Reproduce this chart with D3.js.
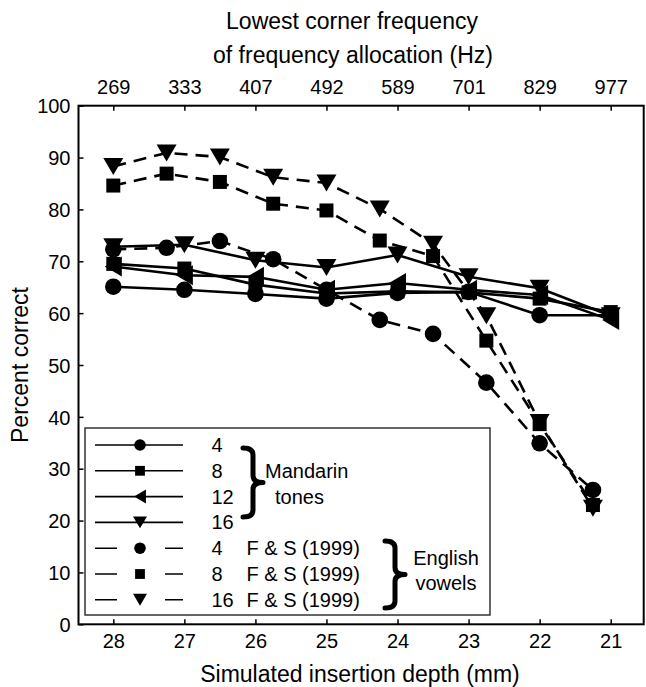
<!DOCTYPE html>
<html>
<head>
<meta charset="utf-8">
<script src="https://cdn.jsdelivr.net/npm/d3@7"></script>
<style>
  html, body { margin: 0; padding: 0; background: #fff; }
  svg { display: block; }
  text { font-family: "Liberation Sans", Arial, sans-serif; fill: #000; }
</style>
</head>
<body>
<svg id="chart" width="646" height="687"></svg>
<script>
// ---------- data ----------
const depthTicks = [28, 27, 26, 25, 24, 23, 22, 21];
const freqLabels = ["269", "333", "407", "492", "589", "701", "829", "977"];
const yTicks = [0, 10, 20, 30, 40, 50, 60, 70, 80, 90, 100];

// Mandarin tones (solid lines)
const depthsMT = [28, 27, 26, 25, 24, 23, 22, 21];
const mt4  = [65.1, 64.5, 63.7, 62.8, 63.9, 64.1, 59.6, 59.6];
const mt8  = [69.5, 68.6, 65.5, 63.8, 64.2, 64.0, 62.8, 60.2];
const mt12 = [69.0, 67.3, 67.0, 64.5, 65.8, 64.5, 63.5, 58.7];
const mt16 = [72.8, 73.2, 70.2, 68.8, 71.2, 67.0, 64.8, 59.5];

// English vowels, F & S (1999) (dashed lines)
const depthsFS = [28, 27.25, 26.5, 25.75, 25, 24.25, 23.5, 22.75, 22, 21.25];
const fs4  = [72.3, 72.6, 73.9, 70.4, 64.5, 58.7, 56.0, 46.6, 34.9, 25.9];
const fs8  = [84.6, 86.9, 85.3, 81.1, 79.8, 74.0, 71.0, 54.7, 38.6, 23.0];
const fs16 = [88.3, 90.9, 90.1, 86.2, 85.1, 80.1, 73.3, 59.5, 38.9, 22.4];

const legendNums = ["4", "8", "12", "16", "4", "8", "16"];
const legendRefs = ["", "", "", "", "F & S (1999)", "F & S (1999)", "F & S (1999)"];

const series = [
  { x: depthsMT, y: mt4,  marker: "circle",   dashed: false },
  { x: depthsMT, y: mt8,  marker: "square",   dashed: false },
  { x: depthsMT, y: mt12, marker: "triLeft",  dashed: false },
  { x: depthsMT, y: mt16, marker: "triDown",  dashed: false },
  { x: depthsFS, y: fs4,  marker: "circle",   dashed: true },
  { x: depthsFS, y: fs8,  marker: "square",   dashed: true },
  { x: depthsFS, y: fs16, marker: "triDown",  dashed: true }
];

// ---------- layout ----------
const svg = d3.select("#chart");
const L = 78.5, R = 643.7, T = 105.7, B = 624.3;
const x = d3.scaleLinear().domain([28, 21]).range([113.3, 610.7]);
const y = d3.scaleLinear().domain([0, 100]).range([B, T]);

// marker drawing
function drawMarker(g, type, cx, cy, s) {
  if (type === "circle") {
    g.append("circle").attr("cx", cx).attr("cy", cy).attr("r", 8.3 * s).attr("fill", "#000");
  } else if (type === "square") {
    const a = 14 * s;
    g.append("rect").attr("x", cx - a / 2).attr("y", cy - a / 2).attr("width", a).attr("height", a).attr("fill", "#000");
  } else if (type === "triDown") {
    const w = 20 * s, h = 17 * s;
    g.append("path").attr("d", `M${cx - w / 2},${cy - h / 2}L${cx + w / 2},${cy - h / 2}L${cx},${cy + h / 2}Z`).attr("fill", "#000");
  } else if (type === "triLeft") {
    const w = 17 * s, h = 20 * s;
    g.append("path").attr("d", `M${cx + w / 2},${cy - h / 2}L${cx + w / 2},${cy + h / 2}L${cx - w / 2},${cy}Z`).attr("fill", "#000");
  }
}

// ---------- axes ----------
const fontSize = 20;
const xAxisB = d3.axisBottom(x).tickValues(depthTicks).tickFormat(d3.format("d"))
  .tickSizeInner(-5).tickSizeOuter(0).tickPadding(10);
const gB = svg.append("g").attr("transform", `translate(0,${B})`).call(xAxisB);
const xAxisT = d3.axisTop(x).tickValues(depthTicks).tickFormat((d, i) => freqLabels[i])
  .tickSizeInner(-5).tickSizeOuter(0).tickPadding(12);
const gT = svg.append("g").attr("transform", `translate(0,${T})`).call(xAxisT);
const yAxis = d3.axisLeft(y).tickValues(yTicks).tickFormat(d3.format("d"))
  .tickSizeInner(-5).tickSizeOuter(0).tickPadding(8);
const gL = svg.append("g").attr("transform", `translate(${L},0)`).call(yAxis);

[gB, gT, gL].forEach(g => {
  g.select(".domain").remove();
  g.selectAll(".tick line").attr("stroke", "#000").attr("stroke-width", 1.5);
  g.selectAll(".tick text").attr("font-size", fontSize).attr("font-family", "Liberation Sans, Arial, sans-serif").attr("fill", "#000");
});
gB.selectAll(".tick text").attr("dy", "0.71em");
gL.selectAll(".tick text").attr("dy", "0.36em");

// frame
svg.append("rect").attr("x", L).attr("y", T).attr("width", R - L).attr("height", B - T)
  .attr("fill", "none").attr("stroke", "#000").attr("stroke-width", 2);

// axis titles
svg.append("text").attr("x", 360).attr("y", 682).attr("text-anchor", "middle").attr("font-size", 23)
  .text("Simulated insertion depth (mm)");
svg.append("text").attr("transform", `translate(28,${(T + B) / 2}) rotate(-90)`).attr("text-anchor", "middle").attr("font-size", 23)
  .text("Percent correct");
svg.append("text").attr("x", 352).attr("y", 29).attr("text-anchor", "middle").attr("font-size", 23)
  .text("Lowest corner frequency");
svg.append("text").attr("x", 353).attr("y", 63).attr("text-anchor", "middle").attr("font-size", 23)
  .text("of frequency allocation (Hz)");

// ---------- series ----------
const line = d3.line().x(d => x(d[0])).y(d => y(d[1]));
const gData = svg.append("g");
series.forEach(s => {
  const pts = s.x.map((d, i) => [d, s.y[i]]);
  gData.append("path").attr("d", line(pts)).attr("fill", "none").attr("stroke", "#000")
    .attr("stroke-width", 2.6).attr("stroke-dasharray", s.dashed ? "13,8" : null)
    .attr("stroke-linejoin", "round");
  pts.forEach(p => drawMarker(gData, s.marker, x(p[0]), y(p[1]), 1));
});

// ---------- legend ----------
const lg = svg.append("g");
lg.append("rect").attr("x", 85).attr("y", 428).attr("width", 405).attr("height", 187)
  .attr("fill", "#fff").attr("stroke", "#333").attr("stroke-width", 1.5);
const rowY0 = 445, rowDy = 25.8;
series.forEach((s, i) => {
  const ry = rowY0 + i * rowDy;
  lg.append("line").attr("x1", 95).attr("x2", 183).attr("y1", ry).attr("y2", ry)
    .attr("stroke", "#000").attr("stroke-width", 1.6)
    .attr("stroke-dasharray", s.dashed ? "22,48" : null);
  drawMarker(lg, s.marker, 140, ry, 0.7);
  lg.append("text").attr("x", 211.5).attr("y", ry + 7).attr("font-size", fontSize).text(legendNums[i]);
  if (legendRefs[i]) lg.append("text").attr("x", 246.5).attr("y", ry + 7).attr("font-size", fontSize).text(legendRefs[i]);
});

function brace(x0, x1, y0, y1) {
  const xm = (x0 + x1) / 2, ym = (y0 + y1) / 2, r = 7;
  return `M${x0},${y0} Q${xm},${y0} ${xm},${y0 + r} L${xm},${ym - r} Q${xm},${ym} ${x1},${ym} ` +
         `Q${xm},${ym} ${xm},${ym + r} L${xm},${y1 - r} Q${xm},${y1} ${x0},${y1}`;
}
lg.append("path").attr("d", brace(243, 263, 448, 517)).attr("fill", "none").attr("stroke", "#000")
  .attr("stroke-width", 5).attr("stroke-linecap", "round").attr("stroke-linejoin", "round");
lg.append("path").attr("d", brace(385, 405, 541, 608)).attr("fill", "none").attr("stroke", "#000")
  .attr("stroke-width", 5).attr("stroke-linecap", "round").attr("stroke-linejoin", "round");
lg.append("text").attr("x", 265).attr("y", rowY0 + rowDy + 7).attr("font-size", fontSize).text("Mandarin");
lg.append("text").attr("x", 275).attr("y", rowY0 + 2 * rowDy + 7).attr("font-size", fontSize).text("tones");
lg.append("text").attr("x", 446).attr("y", 565).attr("text-anchor", "middle").attr("font-size", fontSize).text("English");
lg.append("text").attr("x", 446).attr("y", 590).attr("text-anchor", "middle").attr("font-size", fontSize).text("vowels");
</script>
</body>
</html>
